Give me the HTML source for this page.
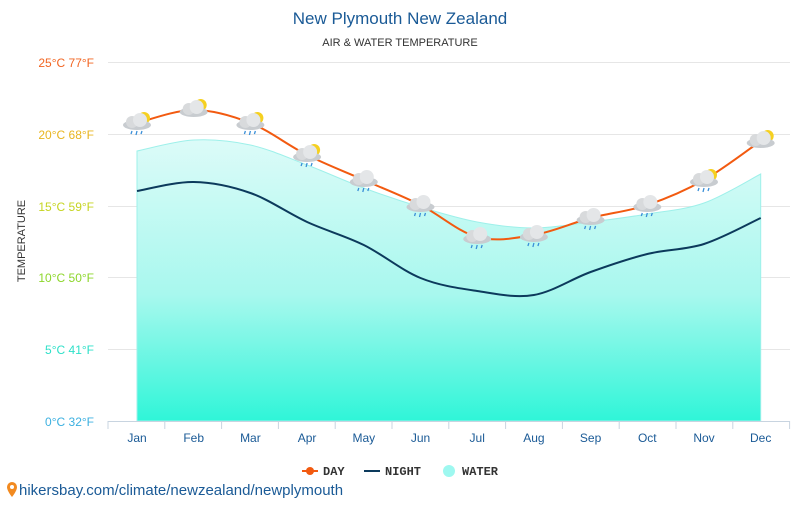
<!DOCTYPE html>
<html><head><meta charset="utf-8"><style>
body{margin:0;background:#fff;width:800px;height:500px;overflow:hidden;font-family:"Liberation Sans",sans-serif}
</style></head><body>
<svg id="s" width="800" height="500" xmlns="http://www.w3.org/2000/svg" font-family="Liberation Sans, sans-serif">
<defs>
<linearGradient id="wg" x1="0" y1="0" x2="0" y2="1">
<stop offset="0" stop-color="#dcfbf8"/><stop offset="0.55" stop-color="#a8f8ee"/><stop offset="1" stop-color="#2ff5d8"/>
</linearGradient>
</defs>
<text x="400" y="24" text-anchor="middle" font-size="17" fill="#1a5a96">New Plymouth New Zealand</text>
<text x="400" y="46" text-anchor="middle" font-size="11" fill="#333">AIR &amp; WATER TEMPERATURE</text>
<g stroke="#e6e6e6" stroke-width="1">
<line x1="108" x2="790" y1="62.5" y2="62.5"/><line x1="108" x2="790" y1="134.5" y2="134.5"/>
<line x1="108" x2="790" y1="206.5" y2="206.5"/><line x1="108" x2="790" y1="277.5" y2="277.5"/>
<line x1="108" x2="790" y1="349.5" y2="349.5"/>
</g>
<g font-size="12" text-anchor="end">
<text x="94" y="67" fill="#f26522">25°C 77°F</text>
<text x="94" y="139" fill="#e8b520">20°C 68°F</text>
<text x="94" y="211" fill="#c5d420">15°C 59°F</text>
<text x="94" y="282" fill="#8cd62a">10°C 50°F</text>
<text x="94" y="354" fill="#2ee0c8">5°C 41°F</text>
<text x="94" y="426" fill="#3cb0e0">0°C 32°F</text>
</g>
<text transform="translate(25,241) rotate(-90)" text-anchor="middle" font-size="11" fill="#333">TEMPERATURE</text>
<path id="water" fill="url(#wg)" stroke="#9ef0ea" stroke-width="1"/>
<line x1="108" x2="790" y1="421.5" y2="421.5" stroke="#c8d4e0"/>
<g id="ticks" stroke="#c8d4e0"></g>
<g id="xl" font-size="12" fill="#1a5a96" text-anchor="middle"></g>
<path id="night" fill="none" stroke="#0c3a5c" stroke-width="2"/>
<path id="day" fill="none" stroke="#f25a10" stroke-width="2"/>
<g id="icons"></g>
<g font-size="12" font-weight="bold" fill="#333" font-family="Liberation Mono, monospace">
<line x1="302" x2="318" y1="471" y2="471" stroke="#f25a10" stroke-width="2"/><circle cx="310" cy="471" r="4" fill="#f25a10"/>
<text x="323" y="475">DAY</text>
<line x1="364" x2="380" y1="471" y2="471" stroke="#0c3a5c" stroke-width="2"/>
<text x="385" y="475">NIGHT</text>
<circle cx="449" cy="471" r="6" fill="#9ef8f0"/>
<text x="462" y="475">WATER</text>
</g>
<g transform="translate(6,482)"><path d="M6 0a5 5 0 0 1 5 5c0 4-5 10-5 10s-5-6-5-10a5 5 0 0 1 5-5z" fill="#f28a20"/><circle cx="6" cy="5" r="2" fill="#fff"/></g>
<text x="19" y="495" font-size="15" fill="#1a5a96">hikersbay.com/climate/newzealand/newplymouth</text>
</svg>
<script>
const xs=[],m=["Jan","Feb","Mar","Apr","May","Jun","Jul","Aug","Sep","Oct","Nov","Dec"];
for(let i=0;i<12;i++)xs.push(137+i*56.7);
const day=[123,110,123,155,180,205,237,235,218,205,180,141];
const night=[191,182,193,222,245,278,291,295,272,254,244,218];
const water=[151,140,145,165,188,207,222,228,222,214,203,174];
function path(ys){let d=`M${xs[0]},${ys[0]}`;for(let i=0;i<11;i++){const p0=i?ys[i-1]:ys[i],p3=i<10?ys[i+2]:ys[i+1];
const x0=i?xs[i-1]:xs[i],x3=i<10?xs[i+2]:xs[i+1];
d+=` C${xs[i]+(xs[i+1]-x0)/6},${ys[i]+(ys[i+1]-p0)/6} ${xs[i+1]-(x3-xs[i])/6},${ys[i+1]-(p3-ys[i])/6} ${xs[i+1]},${ys[i+1]}`;}return d;}
document.getElementById("day").setAttribute("d",path(day));
document.getElementById("night").setAttribute("d",path(night));
document.getElementById("water").setAttribute("d",path(water)+` L${xs[11]},421 L${xs[0]},421 Z`);
let t="",xl="",ic="";
for(let i=0;i<=12;i++){const x=108+i*56.8;t+=`<line x1="${x}" x2="${x}" y1="421" y2="429"/>`;}
for(let i=0;i<12;i++){xl+=`<text x="${xs[i]}" y="442">${m[i]}</text>`;
const x=xs[i],y=day[i],sun=[0,1,2,3,10,11].includes(i);
ic+=`<g transform="translate(${x},${y})">${sun?'<circle cx="7" cy="-5" r="6" fill="#f5d020"/>':''}
<ellipse cx="0" cy="2" rx="14" ry="5" fill="#c8ccd0"/><circle cx="-5" cy="-1" r="6" fill="#d8dadc"/><circle cx="3" cy="-3" r="7" fill="#e4e6e8"/>
${i==1||i==11?'':'<g stroke="#3a8fd8" stroke-width="1.3"><line x1="-5" y1="8" x2="-6" y2="11"/><line x1="0" y1="8" x2="-1" y2="12"/><line x1="5" y1="8" x2="4" y2="11"/></g>'}</g>`;}
document.getElementById("ticks").innerHTML=t;
document.getElementById("xl").innerHTML=xl;
document.getElementById("icons").innerHTML=ic;
</script>
</body></html>
